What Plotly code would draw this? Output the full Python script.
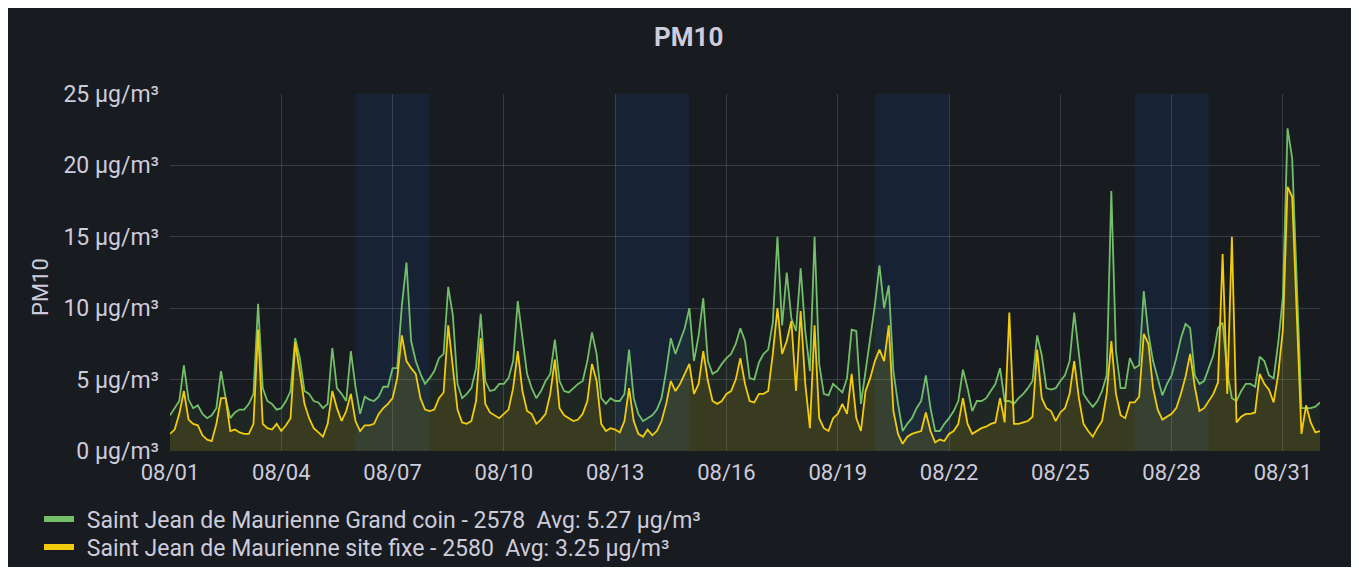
import pandas as pd
import plotly.graph_objects as go

# 3-hourly samples from 2022-08-01 00:00 to 2022-09-01 00:00
start = "2022-08-01 00:00"
n_points = 249

green_vals = [
    2.5, 3.0, 3.5, 6.0, 3.6, 3.0, 3.2, 2.6,
    2.3, 2.5, 3.0, 5.6, 3.7, 2.3, 2.7, 2.9,
    2.9, 3.3, 4.0, 10.3, 4.4, 3.5, 3.3, 2.9,
    3.0, 3.5, 4.2, 7.9, 6.5, 4.2, 4.0, 3.5,
    3.4, 3.0, 3.3, 7.2, 4.4, 4.0, 3.5, 7.0,
    4.5, 2.6, 3.8, 3.6, 3.5, 3.8, 4.5, 4.5,
    5.8, 5.8, 10.2, 13.2, 7.7, 6.3, 5.4, 4.7,
    5.1, 5.6, 6.5, 6.8, 11.5, 9.5, 4.7, 3.7,
    4.0, 4.4, 5.8, 9.6, 4.9, 4.2, 4.3, 4.7,
    4.7, 5.1, 6.3, 10.5, 7.9, 5.4, 4.4, 3.7,
    4.2, 4.9, 5.4, 7.8, 4.9, 4.2, 4.1, 4.4,
    4.7, 4.9, 6.3, 8.3, 6.8, 3.7, 3.3, 3.7,
    3.5, 3.5, 4.0, 7.1, 3.7, 2.6, 2.1, 2.3,
    2.5, 2.9, 3.7, 5.6, 7.9, 6.8, 7.7, 8.6,
    10.0, 6.3, 8.1, 10.7, 6.3, 5.4, 5.6, 6.1,
    6.5, 6.8, 7.5, 8.6, 7.7, 5.1, 5.0, 6.2,
    6.8, 7.1, 9.0, 15.0, 8.8, 12.5, 9.3, 8.4,
    12.8, 8.4, 5.6, 15.0, 6.1, 4.0, 3.9, 4.7,
    4.4, 4.1, 5.1, 8.5, 8.4, 3.3, 5.6, 7.9,
    10.2, 13.0, 10.0, 11.6, 5.6, 3.3, 1.4, 1.9,
    2.3, 3.0, 3.5, 5.3, 3.0, 1.4, 1.4, 1.9,
    2.3, 2.8, 3.5, 5.7, 4.4, 2.8, 3.5, 3.5,
    3.7, 4.2, 4.7, 5.8, 3.5, 3.5, 3.3, 3.7,
    4.0, 4.4, 4.9, 8.1, 6.7, 4.4, 4.3, 4.4,
    4.9, 5.3, 6.3, 9.7, 6.7, 4.0, 3.5, 3.1,
    3.5, 4.2, 5.3, 18.2, 7.0, 4.4, 4.4, 6.5,
    5.8, 6.0, 11.2, 8.2, 6.3, 5.1, 3.9, 4.7,
    5.3, 6.5, 7.9, 8.9, 8.6, 5.3, 4.7, 4.9,
    5.8, 6.7, 8.6, 9.0, 5.5, 3.7, 3.5, 4.2,
    4.7, 4.7, 4.5, 6.6, 6.3, 5.3, 5.1, 7.6,
    10.8, 22.6, 20.5, 12.0, 3.0, 3.0, 3.0, 3.1,
    3.4,
]

yellow_vals = [
    1.2, 1.5, 2.6, 4.2, 2.2, 1.9, 1.8, 1.1,
    0.8, 0.7, 1.9, 3.7, 3.7, 1.4, 1.5, 1.3,
    1.2, 1.2, 1.9, 8.5, 1.9, 1.6, 1.5, 1.9,
    1.4, 1.8, 2.3, 7.6, 5.5, 3.3, 2.3, 1.6,
    1.3, 1.0, 1.9, 4.2, 3.0, 2.1, 2.8, 4.0,
    2.1, 1.4, 1.8, 1.8, 1.9, 2.6, 3.0, 3.3,
    3.7, 5.1, 8.1, 6.3, 5.8, 5.4, 3.7, 2.9,
    2.8, 2.9, 3.7, 4.1, 8.8, 5.8, 2.9, 2.0,
    1.9, 2.1, 3.5, 7.9, 3.3, 2.7, 2.5, 2.3,
    2.6, 2.9, 4.4, 7.0, 4.2, 2.8, 2.6, 1.9,
    2.2, 2.6, 4.0, 6.4, 3.0, 2.5, 2.3, 2.1,
    2.2, 2.6, 3.5, 6.1, 4.9, 1.9, 1.4, 1.6,
    1.5, 1.3, 2.1, 4.4, 2.1, 1.2, 1.0, 1.5,
    1.1, 1.4, 2.1, 3.3, 4.9, 4.2, 4.7, 5.4,
    6.1, 4.0, 4.7, 7.0, 4.9, 3.5, 3.3, 3.5,
    4.0, 4.2, 5.0, 6.5, 4.7, 3.5, 3.4, 4.0,
    4.0, 4.2, 6.8, 10.0, 6.8, 7.7, 9.1, 4.2,
    9.8, 4.7, 1.6, 8.8, 2.3, 1.6, 1.4, 2.3,
    2.6, 3.3, 2.6, 5.4, 2.3, 1.4, 4.2, 5.1,
    6.3, 7.1, 6.3, 8.8, 2.8, 1.2, 0.5, 1.0,
    1.2, 1.3, 1.4, 2.7, 1.4, 0.6, 0.8, 0.7,
    1.2, 1.4, 1.9, 3.7, 1.9, 1.2, 1.4, 1.6,
    1.7, 1.9, 2.0, 3.7, 2.0, 9.7, 1.9, 1.9,
    2.0, 2.1, 2.4, 7.1, 3.7, 3.0, 2.8, 2.1,
    2.7, 3.0, 4.0, 6.3, 3.7, 1.9, 1.4, 1.0,
    1.6, 2.1, 4.0, 7.7, 4.0, 2.5, 2.3, 3.4,
    3.4, 3.8, 8.2, 7.5, 4.4, 2.9, 2.2, 2.4,
    2.6, 3.0, 4.0, 5.2, 6.8, 4.5, 2.8, 3.0,
    3.5, 4.0, 4.8, 13.8, 4.0, 15.0, 2.0, 2.4,
    2.6, 2.6, 2.7, 5.4, 4.7, 4.3, 3.4, 5.4,
    8.5, 18.5, 17.8, 10.0, 1.2, 3.2, 2.0, 1.3,
    1.4,
]

series_names = [
    "Saint Jean de Maurienne Grand coin - 2578  Avg: 5.27 µg/m³",
    "Saint Jean de Maurienne site fixe - 2580  Avg: 3.25 µg/m³",
]
weekends = [("2022-08-06", "2022-08-08"), ("2022-08-13", "2022-08-15"),
            ("2022-08-20", "2022-08-22"), ("2022-08-27", "2022-08-29")]
x_tick_vals = ["2022-08-01", "2022-08-04", "2022-08-07", "2022-08-10", "2022-08-13",
               "2022-08-16", "2022-08-19", "2022-08-22", "2022-08-25", "2022-08-28",
               "2022-08-31"]
x_tick_text = ["08/01", "08/04", "08/07", "08/10", "08/13", "08/16", "08/19",
               "08/22", "08/25", "08/28", "08/31"]
y_tick_vals = [0, 5, 10, 15, 20, 25]
y_tick_text = ["0 µg/m³", "5 µg/m³", "10 µg/m³", "15 µg/m³", "20 µg/m³", "25 µg/m³"]

times = pd.date_range(start, periods=n_points, freq="3h")

PANEL = "#181b1f"
TEXT = "#ccccdc"
GREEN = "#73bf69"
YELLOW = "#f2cc0c"
FONT = "Roboto"

# the page body margin (8px) forms the white frame around the panel
W, H = 1343, 559
L, R, T, B = 162, 31, 86, 116
pw, ph = W - L - R, H - T - B


def px_x(ref_px):  # reference-screenshot x -> paper coordinate
    return (ref_px - 8 - L) / pw


def px_y(ref_py):  # reference-screenshot y -> paper coordinate
    return (H - B - (ref_py - 8)) / ph


fig = go.Figure()

fig.add_trace(go.Scatter(
    x=times, y=green_vals, mode="lines", name=series_names[0],
    line=dict(color=GREEN, width=1.8), fill="tozeroy",
    fillcolor="rgba(115,191,105,0.08)", showlegend=False, hoverinfo="skip"))
fig.add_trace(go.Scatter(
    x=times, y=yellow_vals, mode="lines", name=series_names[1],
    line=dict(color=YELLOW, width=1.8), fill="tozeroy",
    fillcolor="rgba(242,204,12,0.12)", showlegend=False, hoverinfo="skip"))

# legend entries (thick swatches like Grafana), one legend per row
for name, col, lg in zip(series_names, [GREEN, YELLOW], ["legend", "legend2"]):
    fig.add_trace(go.Scatter(x=[None], y=[None], mode="lines", name="\u2004" + name,
                             line=dict(color=col, width=6), showlegend=True, legend=lg))

shapes = []
for a, b in weekends:
    shapes.append(dict(type="rect", xref="x", yref="paper", x0=a, x1=b, y0=0, y1=1,
                       fillcolor="rgba(20,80,180,0.15)", line=dict(width=0),
                       layer="below"))

legend_style = dict(xanchor="left", yanchor="middle", bgcolor="rgba(0,0,0,0)",
                    font=dict(size=23, color=TEXT, family=FONT), itemwidth=30)

fig.update_layout(
    width=W, height=H,
    margin=dict(l=L, r=R, t=T, b=B, autoexpand=False),
    paper_bgcolor=PANEL, plot_bgcolor=PANEL,
    font=dict(family=FONT, color=TEXT, size=22),
    shapes=shapes,
    showlegend=True,
    legend=dict(x=px_x(39), y=px_y(519), **legend_style),
    legend2=dict(x=px_x(39), y=px_y(547), **legend_style),
    annotations=[
        dict(text="<b>PM10</b>", x=px_x(688), y=px_y(37), xref="paper", yref="paper",
             xanchor="center", yanchor="middle", showarrow=False,
             font=dict(size=26, color=TEXT, family=FONT)),
        dict(text="PM10", x=px_x(40), y=px_y(287), xref="paper", yref="paper",
             textangle=-90, xanchor="center", yanchor="middle", showarrow=False,
             font=dict(size=22, color=TEXT, family=FONT)),
    ],
    hovermode=False,
)

fig.update_xaxes(
    type="date", range=["2022-08-01", "2022-09-01"],
    tickvals=x_tick_vals, ticktext=x_tick_text,
    showgrid=True, gridcolor="rgba(204,204,220,0.18)", gridwidth=1,
    showline=False, zeroline=False, ticks="", ticklabelstandoff=6,
    tickfont=dict(size=22, color=TEXT, family=FONT),
)
fig.update_yaxes(
    range=[0, 25], tickvals=y_tick_vals, ticktext=y_tick_text,
    showgrid=True, gridcolor="rgba(204,204,220,0.18)", gridwidth=1,
    showline=False, zeroline=False, ticks="", ticklabelstandoff=10,
    tickfont=dict(size=23, color=TEXT, family=FONT),
)

fig.write_html("out.html")
